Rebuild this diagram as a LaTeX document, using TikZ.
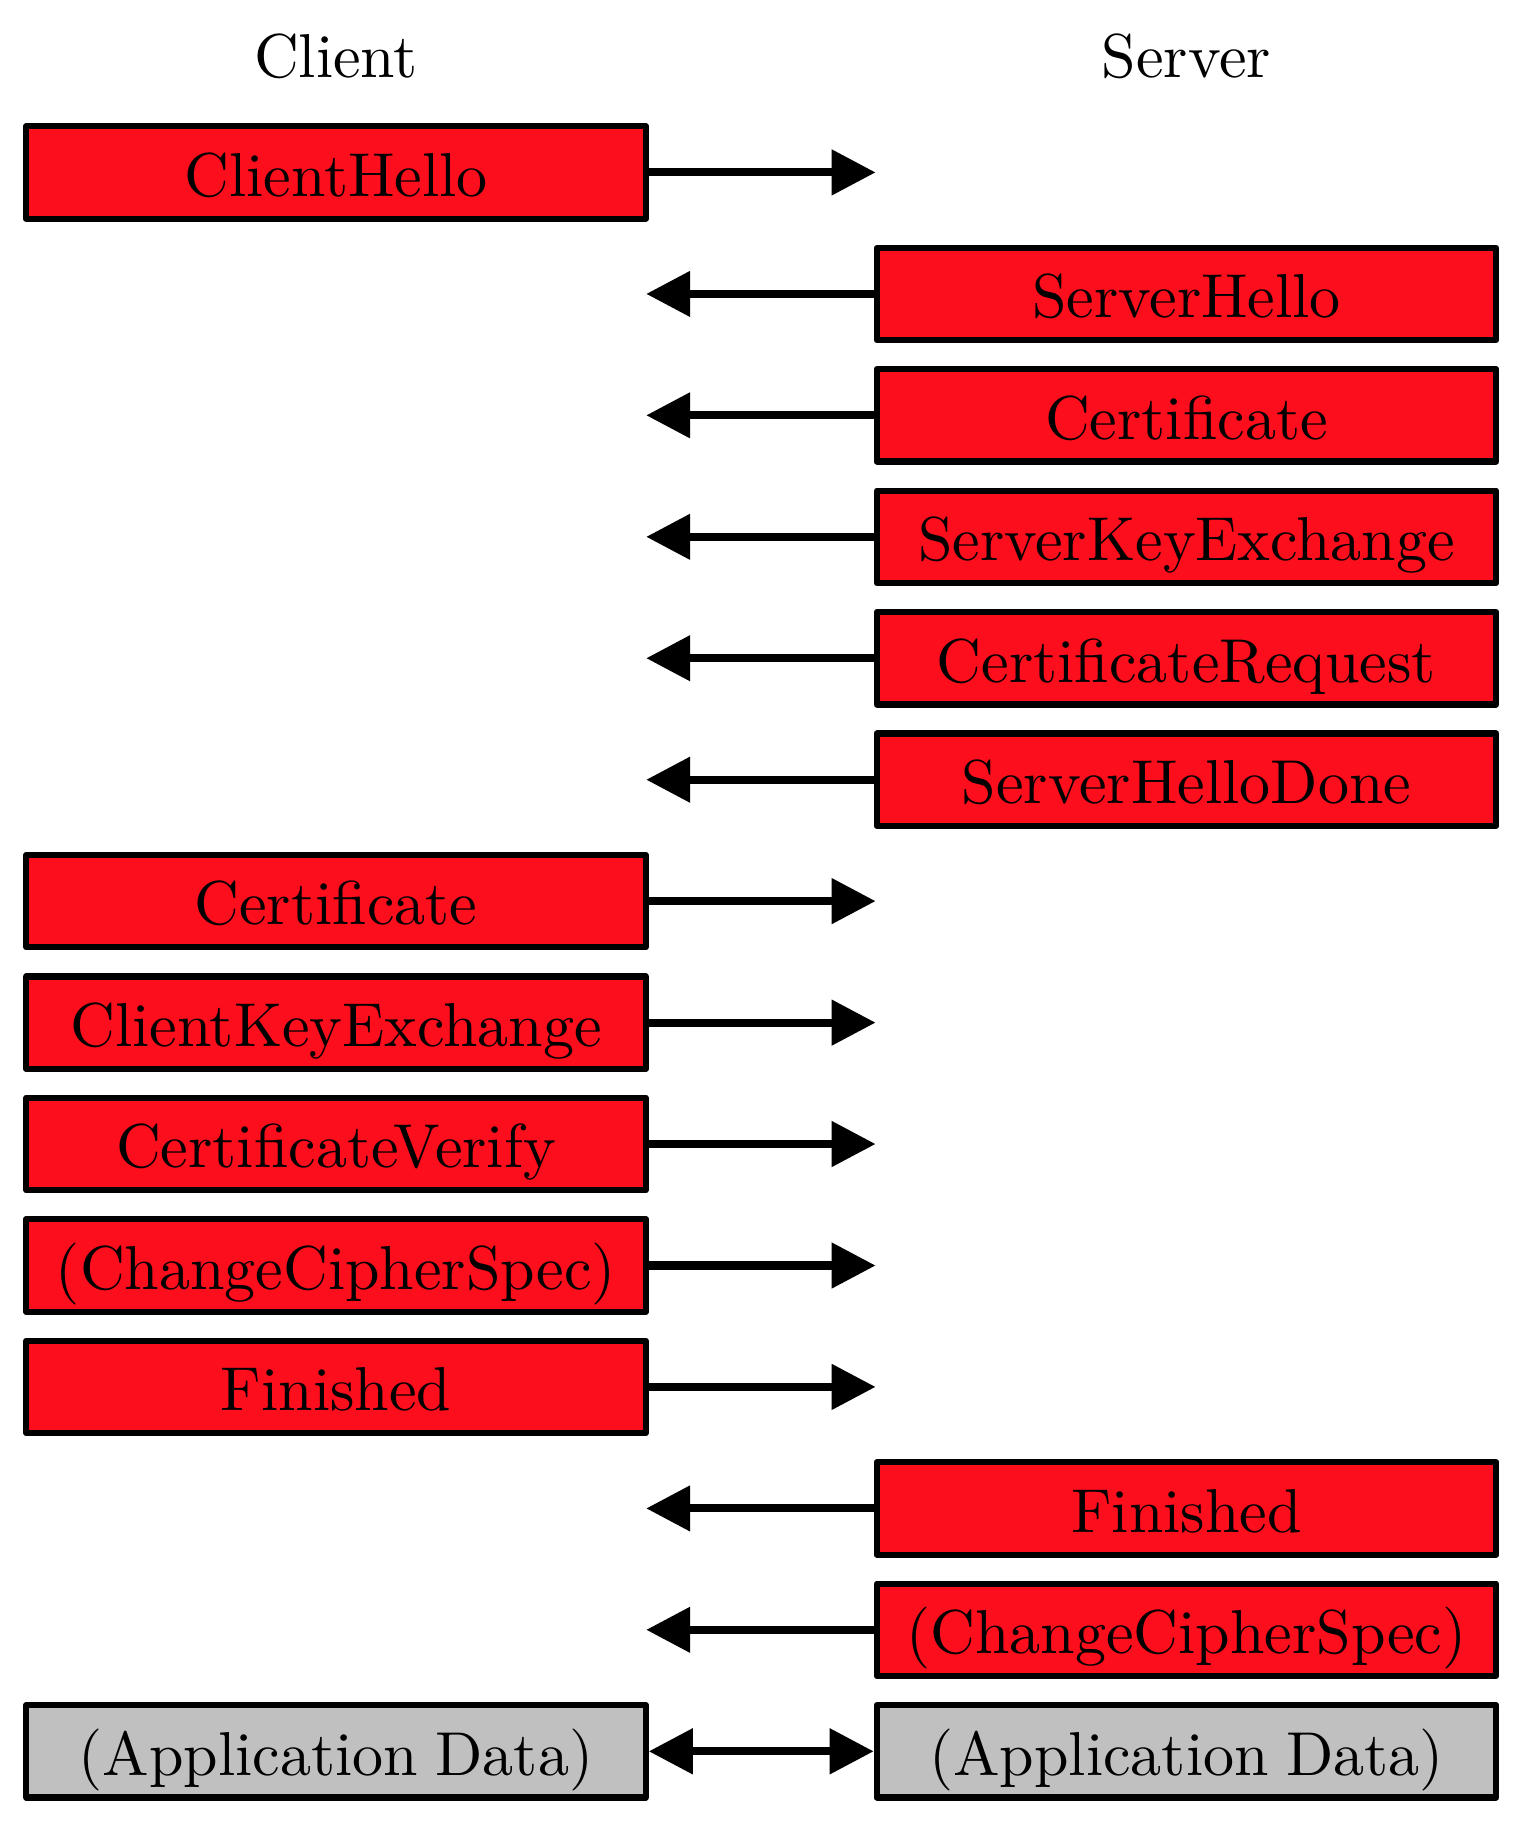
\documentclass[tikz,border=0pt]{standalone}
\usetikzlibrary{arrows.meta}
\definecolor{msgred}{RGB}{252,14,28}
\definecolor{appgray}{RGB}{192,192,192}
\newcommand\tightspace{\spaceskip=2.8pt plus 1pt\relax}
\tikzset{
	msg/.style={draw, line width=1pt, line join=round, fill=msgred, minimum width=99.9pt, minimum height=14.9pt, inner sep=0pt, text height=7.7pt, text depth=0pt},
	app/.style={msg, fill=appgray, font=\tightspace},
	flow/.style={line width=1.3pt, -{Triangle[length=7.1pt,width=7.1pt]}},
}
\begin{document}
\begin{tikzpicture}[x=0.16129pt, y=-0.16129pt]
		\useasboundingbox (0,0) rectangle (1530,1826);
		\node[anchor=base] (client) at (336,77) {Client}; \node[anchor=base] (server) at (1186.5,77) {Server};
		% client to server
		\node[msg] (chello) at (336,172.4) {ClientHello}; \coordinate (chello-r) at (875.6,172.4);
		% server to client
		\node[msg] (shello) at (1186.5,293.9) {ServerHello}; \coordinate (shello-l) at (646.2,293.9);
		\node[msg] (scert) at (1186.5,415.3) {Certificate}; \coordinate (scert-l) at (646.2,415.3);
		\node[msg] (skex) at (1186.5,536.8) {ServerKeyExchange}; \coordinate (skex-l) at (646.2,536.8);
		\node[msg] (sreq) at (1186.5,658.2) {CertificateRequest}; \coordinate (sreq-l) at (646.2,658.2);
		\node[msg] (sdone) at (1186.5,779.7) {ServerHelloDone}; \coordinate (sdone-l) at (646.2,779.7);
		% client to server
		\node[msg] (ccert) at (336,901.1) {Certificate}; \coordinate (ccert-r) at (875.6,901.1);
		\node[msg] (ckex) at (336,1022.6) {ClientKeyExchange}; \coordinate (ckex-r) at (875.6,1022.6);
		\node[msg] (cver) at (336,1144.0) {CertificateVerify}; \coordinate (cver-r) at (875.6,1144.0);
		\node[msg] (cccs) at (336,1265.5) {(ChangeCipherSpec)}; \coordinate (cccs-r) at (875.6,1265.5);
		\node[msg] (cfin) at (336,1386.9) {Finished}; \coordinate (cfin-r) at (875.6,1386.9);
		% server to client
		\node[msg] (sfin) at (1186.5,1508.4) {Finished}; \coordinate (sfin-l) at (646.2,1508.4);
		\node[msg] (sccs) at (1186.5,1629.8) {(ChangeCipherSpec)}; \coordinate (sccs-l) at (646.2,1629.8);
		% both ways
		\node[app] (capp) at (336,1751.3) {(Application Data)}; \node[app] (sapp) at (1186.5,1751.3) {(Application Data)};
		\draw[flow] (chello.east) -- (chello-r);
		\draw[flow] (shello.west) -- (shello-l); \draw[flow] (scert.west) -- (scert-l); \draw[flow] (skex.west) -- (skex-l);
		\draw[flow] (sreq.west) -- (sreq-l); \draw[flow] (sdone.west) -- (sdone-l);
		\draw[flow] (ccert.east) -- (ccert-r); \draw[flow] (ckex.east) -- (ckex-r); \draw[flow] (cver.east) -- (cver-r);
		\draw[flow] (cccs.east) -- (cccs-r); \draw[flow] (cfin.east) -- (cfin-r);
		\draw[flow] (sfin.west) -- (sfin-l); \draw[flow] (sccs.west) -- (sccs-l);
		\draw[flow, {Triangle[length=7.1pt,width=7.1pt]}-{Triangle[length=7.1pt,width=7.1pt]}] (capp.east) -- (sapp.west);
\end{tikzpicture}
\end{document}
